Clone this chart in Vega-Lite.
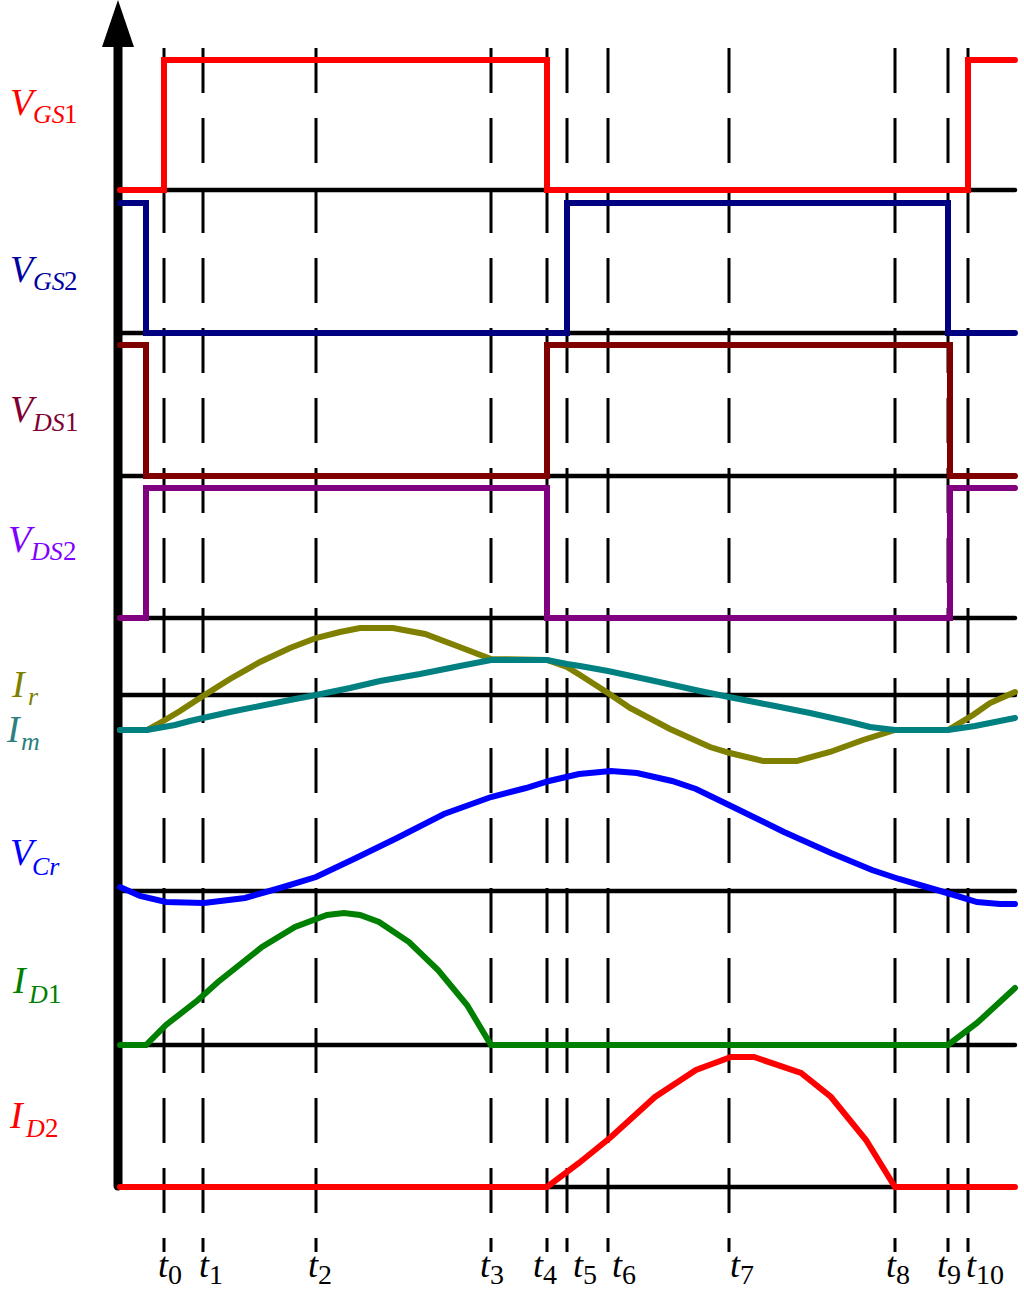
{
  "$schema": "https://vega.github.io/schema/vega-lite/v6.json",
  "width": 1024,
  "height": 1295,
  "autosize": {"type": "none"},
  "padding": 0,
  "background": "white",
  "config": {"view": {"stroke": null}},
  "datasets": {
    "base": [
      {"lvl": 190, "x0": 118, "x1": 1015},
      {"lvl": 333, "x0": 118, "x1": 1015},
      {"lvl": 476, "x0": 118, "x1": 1015},
      {"lvl": 618, "x0": 118, "x1": 1015},
      {"lvl": 695, "x0": 118, "x1": 1015},
      {"lvl": 891, "x0": 118, "x1": 1015},
      {"lvl": 1045, "x0": 118, "x1": 1015},
      {"lvl": 1187, "x0": 118, "x1": 1015}
    ],
    "times": [
      {"k": "0", "t": 164, "lx": 158},
      {"k": "1", "t": 203, "lx": 199},
      {"k": "2", "t": 316, "lx": 308},
      {"k": "3", "t": 491, "lx": 480},
      {"k": "4", "t": 547, "lx": 533},
      {"k": "5", "t": 567, "lx": 573},
      {"k": "6", "t": 608, "lx": 612},
      {"k": "7", "t": 729, "lx": 730},
      {"k": "8", "t": 895, "lx": 886},
      {"k": "9", "t": 948, "lx": 937},
      {"k": "10", "t": 968, "lx": 966}
    ],
    "axisline": [{"x": 118, "y0": 45, "y1": 1186, "tip": 23.5}],
    "sig": [
      {"s": "s1", "i": 0, "t": 120, "v": 190}, {"s": "s1", "i": 1, "t": 164, "v": 190}, {"s": "s1", "i": 2, "t": 164, "v": 60}, {"s": "s1", "i": 3, "t": 547, "v": 60}, {"s": "s1", "i": 4, "t": 547, "v": 190}, {"s": "s1", "i": 5, "t": 968, "v": 190}, {"s": "s1", "i": 6, "t": 968, "v": 60}, {"s": "s1", "i": 7, "t": 1015, "v": 60},
      {"s": "s2", "i": 0, "t": 120, "v": 203}, {"s": "s2", "i": 1, "t": 146, "v": 203}, {"s": "s2", "i": 2, "t": 146, "v": 333}, {"s": "s2", "i": 3, "t": 567, "v": 333}, {"s": "s2", "i": 4, "t": 567, "v": 203}, {"s": "s2", "i": 5, "t": 948, "v": 203}, {"s": "s2", "i": 6, "t": 948, "v": 333}, {"s": "s2", "i": 7, "t": 1015, "v": 333},
      {"s": "s3", "i": 0, "t": 120, "v": 345}, {"s": "s3", "i": 1, "t": 146, "v": 345}, {"s": "s3", "i": 2, "t": 146, "v": 476}, {"s": "s3", "i": 3, "t": 547, "v": 476}, {"s": "s3", "i": 4, "t": 547, "v": 345}, {"s": "s3", "i": 5, "t": 950, "v": 345}, {"s": "s3", "i": 6, "t": 950, "v": 476}, {"s": "s3", "i": 7, "t": 1015, "v": 476},
      {"s": "s4", "i": 0, "t": 120, "v": 618}, {"s": "s4", "i": 1, "t": 146, "v": 618}, {"s": "s4", "i": 2, "t": 146, "v": 488}, {"s": "s4", "i": 3, "t": 547, "v": 488}, {"s": "s4", "i": 4, "t": 547, "v": 618}, {"s": "s4", "i": 5, "t": 950, "v": 618}, {"s": "s4", "i": 6, "t": 950, "v": 488}, {"s": "s4", "i": 7, "t": 1015, "v": 488},
      {"s": "s5", "i": 0, "t": 120, "v": 730}, {"s": "s5", "i": 1, "t": 147, "v": 730}, {"s": "s5", "i": 2, "t": 165, "v": 720}, {"s": "s5", "i": 3, "t": 180, "v": 711}, {"s": "s5", "i": 4, "t": 203, "v": 696}, {"s": "s5", "i": 5, "t": 230, "v": 679}, {"s": "s5", "i": 6, "t": 260, "v": 662}, {"s": "s5", "i": 7, "t": 290, "v": 648}, {"s": "s5", "i": 8, "t": 316, "v": 638}, {"s": "s5", "i": 9, "t": 340, "v": 632}, {"s": "s5", "i": 10, "t": 360, "v": 628}, {"s": "s5", "i": 11, "t": 393, "v": 628}, {"s": "s5", "i": 12, "t": 425, "v": 634}, {"s": "s5", "i": 13, "t": 457, "v": 646}, {"s": "s5", "i": 14, "t": 491, "v": 659}, {"s": "s5", "i": 15, "t": 547, "v": 660}, {"s": "s5", "i": 16, "t": 567, "v": 667}, {"s": "s5", "i": 17, "t": 580, "v": 675}, {"s": "s5", "i": 18, "t": 608, "v": 693}, {"s": "s5", "i": 19, "t": 630, "v": 708}, {"s": "s5", "i": 20, "t": 670, "v": 729}, {"s": "s5", "i": 21, "t": 710, "v": 747}, {"s": "s5", "i": 22, "t": 730, "v": 753}, {"s": "s5", "i": 23, "t": 763, "v": 761}, {"s": "s5", "i": 24, "t": 797, "v": 761}, {"s": "s5", "i": 25, "t": 830, "v": 752}, {"s": "s5", "i": 26, "t": 863, "v": 740}, {"s": "s5", "i": 27, "t": 895, "v": 730}, {"s": "s5", "i": 28, "t": 948, "v": 730}, {"s": "s5", "i": 29, "t": 973, "v": 715}, {"s": "s5", "i": 30, "t": 990, "v": 703}, {"s": "s5", "i": 31, "t": 1015, "v": 692},
      {"s": "s6", "i": 0, "t": 120, "v": 730}, {"s": "s6", "i": 1, "t": 147, "v": 730}, {"s": "s6", "i": 2, "t": 175, "v": 725}, {"s": "s6", "i": 3, "t": 190, "v": 721}, {"s": "s6", "i": 4, "t": 203, "v": 718}, {"s": "s6", "i": 5, "t": 230, "v": 712}, {"s": "s6", "i": 6, "t": 260, "v": 706}, {"s": "s6", "i": 7, "t": 290, "v": 700}, {"s": "s6", "i": 8, "t": 316, "v": 695}, {"s": "s6", "i": 9, "t": 350, "v": 688}, {"s": "s6", "i": 10, "t": 380, "v": 681}, {"s": "s6", "i": 11, "t": 420, "v": 674}, {"s": "s6", "i": 12, "t": 460, "v": 666}, {"s": "s6", "i": 13, "t": 491, "v": 660}, {"s": "s6", "i": 14, "t": 547, "v": 660}, {"s": "s6", "i": 15, "t": 567, "v": 664}, {"s": "s6", "i": 16, "t": 580, "v": 666}, {"s": "s6", "i": 17, "t": 608, "v": 671}, {"s": "s6", "i": 18, "t": 650, "v": 680}, {"s": "s6", "i": 19, "t": 700, "v": 691}, {"s": "s6", "i": 20, "t": 729, "v": 697}, {"s": "s6", "i": 21, "t": 770, "v": 705}, {"s": "s6", "i": 22, "t": 810, "v": 713}, {"s": "s6", "i": 23, "t": 850, "v": 722}, {"s": "s6", "i": 24, "t": 870, "v": 727}, {"s": "s6", "i": 25, "t": 895, "v": 730}, {"s": "s6", "i": 26, "t": 948, "v": 730}, {"s": "s6", "i": 27, "t": 975, "v": 726}, {"s": "s6", "i": 28, "t": 1015, "v": 718},
      {"s": "s7", "i": 0, "t": 120, "v": 887}, {"s": "s7", "i": 1, "t": 140, "v": 896}, {"s": "s7", "i": 2, "t": 166, "v": 902}, {"s": "s7", "i": 3, "t": 204, "v": 903}, {"s": "s7", "i": 4, "t": 245, "v": 898}, {"s": "s7", "i": 5, "t": 280, "v": 888}, {"s": "s7", "i": 6, "t": 316, "v": 877}, {"s": "s7", "i": 7, "t": 356, "v": 858}, {"s": "s7", "i": 8, "t": 397, "v": 838}, {"s": "s7", "i": 9, "t": 444, "v": 814}, {"s": "s7", "i": 10, "t": 491, "v": 797}, {"s": "s7", "i": 11, "t": 526, "v": 788}, {"s": "s7", "i": 12, "t": 549, "v": 781}, {"s": "s7", "i": 13, "t": 579, "v": 774}, {"s": "s7", "i": 14, "t": 611, "v": 771}, {"s": "s7", "i": 15, "t": 637, "v": 773}, {"s": "s7", "i": 16, "t": 672, "v": 781}, {"s": "s7", "i": 17, "t": 696, "v": 789}, {"s": "s7", "i": 18, "t": 731, "v": 806}, {"s": "s7", "i": 19, "t": 784, "v": 832}, {"s": "s7", "i": 20, "t": 831, "v": 853}, {"s": "s7", "i": 21, "t": 872, "v": 870}, {"s": "s7", "i": 22, "t": 899, "v": 879}, {"s": "s7", "i": 23, "t": 930, "v": 888}, {"s": "s7", "i": 24, "t": 954, "v": 895}, {"s": "s7", "i": 25, "t": 977, "v": 902}, {"s": "s7", "i": 26, "t": 1000, "v": 904}, {"s": "s7", "i": 27, "t": 1015, "v": 904},
      {"s": "s8", "i": 0, "t": 120, "v": 1045}, {"s": "s8", "i": 1, "t": 146, "v": 1045}, {"s": "s8", "i": 2, "t": 166, "v": 1025}, {"s": "s8", "i": 3, "t": 198, "v": 1000}, {"s": "s8", "i": 4, "t": 218, "v": 982}, {"s": "s8", "i": 5, "t": 262, "v": 947}, {"s": "s8", "i": 6, "t": 295, "v": 927}, {"s": "s8", "i": 7, "t": 327, "v": 915}, {"s": "s8", "i": 8, "t": 344, "v": 913}, {"s": "s8", "i": 9, "t": 360, "v": 915}, {"s": "s8", "i": 10, "t": 379, "v": 922}, {"s": "s8", "i": 11, "t": 409, "v": 942}, {"s": "s8", "i": 12, "t": 438, "v": 970}, {"s": "s8", "i": 13, "t": 467, "v": 1005}, {"s": "s8", "i": 14, "t": 491, "v": 1045}, {"s": "s8", "i": 15, "t": 948, "v": 1045}, {"s": "s8", "i": 16, "t": 977, "v": 1023}, {"s": "s8", "i": 17, "t": 1015, "v": 988},
      {"s": "s9", "i": 0, "t": 120, "v": 1187}, {"s": "s9", "i": 1, "t": 547, "v": 1187}, {"s": "s9", "i": 2, "t": 579, "v": 1163}, {"s": "s9", "i": 3, "t": 611, "v": 1137}, {"s": "s9", "i": 4, "t": 655, "v": 1097}, {"s": "s9", "i": 5, "t": 696, "v": 1070}, {"s": "s9", "i": 6, "t": 731, "v": 1057}, {"s": "s9", "i": 7, "t": 754, "v": 1057}, {"s": "s9", "i": 8, "t": 801, "v": 1073}, {"s": "s9", "i": 9, "t": 831, "v": 1097}, {"s": "s9", "i": 10, "t": 866, "v": 1140}, {"s": "s9", "i": 11, "t": 895, "v": 1187}, {"s": "s9", "i": 12, "t": 1015, "v": 1187}
    ],
    "labels": [
      {"s": "s1", "kind": "main", "txt": "V", "x": 10, "y": 115},
      {"s": "s1", "kind": "sub", "txt": "GS", "x": 33, "y": 123},
      {"s": "s1", "kind": "dig", "txt": "1", "x": 64, "y": 123},
      {"s": "s2", "kind": "main", "txt": "V", "x": 10, "y": 282},
      {"s": "s2", "kind": "sub", "txt": "GS", "x": 33, "y": 290},
      {"s": "s2", "kind": "dig", "txt": "2", "x": 64, "y": 290},
      {"s": "s3", "kind": "main", "txt": "V", "x": 10, "y": 422},
      {"s": "s3", "kind": "sub", "txt": "DS", "x": 33, "y": 431},
      {"s": "s3", "kind": "dig", "txt": "1", "x": 65, "y": 431},
      {"s": "s4", "kind": "main", "txt": "V", "x": 8, "y": 552},
      {"s": "s4", "kind": "sub", "txt": "DS", "x": 31, "y": 560},
      {"s": "s4", "kind": "dig", "txt": "2", "x": 63, "y": 560},
      {"s": "s5", "kind": "main", "txt": "I", "x": 12, "y": 697},
      {"s": "s5", "kind": "sub", "txt": "r", "x": 28, "y": 705},
      {"s": "s6", "kind": "main", "txt": "I", "x": 7, "y": 742},
      {"s": "s6", "kind": "sub", "txt": "m", "x": 21, "y": 750},
      {"s": "s7", "kind": "main", "txt": "V", "x": 10, "y": 865},
      {"s": "s7", "kind": "sub", "txt": "Cr", "x": 32, "y": 875},
      {"s": "s8", "kind": "main", "txt": "I", "x": 13, "y": 993},
      {"s": "s8", "kind": "sub", "txt": "D", "x": 29, "y": 1003},
      {"s": "s8", "kind": "dig", "txt": "1", "x": 48, "y": 1003},
      {"s": "s9", "kind": "main", "txt": "I", "x": 10, "y": 1128},
      {"s": "s9", "kind": "sub", "txt": "D", "x": 26, "y": 1137},
      {"s": "s9", "kind": "dig", "txt": "2", "x": 45, "y": 1137}
    ]
  },
  "layer": [
    {
      "data": {"name": "base"},
      "mark": {"type": "rule", "color": "black", "strokeWidth": 4.5, "strokeCap": "round"},
      "encoding": {
        "x": {"field": "x0", "type": "quantitative", "scale": {"domain": [0, 1024], "nice": false, "zero": false}, "axis": null},
        "x2": {"field": "x1"},
        "y": {"field": "lvl", "type": "quantitative", "scale": {"domain": [0, 1295], "nice": false, "zero": false, "reverse": true}, "axis": null}
      }
    },
    {
      "data": {"name": "times"},
      "mark": {"type": "rule", "color": "black", "strokeWidth": 3, "strokeDash": [45, 25]},
      "encoding": {
        "x": {"field": "t", "type": "quantitative"},
        "y": {"datum": 48, "type": "quantitative"},
        "y2": {"datum": 1252}
      }
    },
    {
      "data": {"name": "axisline"},
      "mark": {"type": "rule", "color": "black", "strokeWidth": 9, "strokeCap": "round"},
      "encoding": {
        "x": {"field": "x", "type": "quantitative"},
        "y": {"field": "y0", "type": "quantitative"},
        "y2": {"field": "y1"}
      }
    },
    {
      "data": {"name": "axisline"},
      "mark": {"type": "point", "shape": "M0,-1L0.68,1L-0.68,1Z", "filled": true, "color": "black", "opacity": 1, "size": 2209, "strokeWidth": 0},
      "encoding": {
        "x": {"field": "x", "type": "quantitative"},
        "y": {"field": "tip", "type": "quantitative"}
      }
    },
    {
      "data": {"name": "sig"},
      "mark": {"type": "line", "strokeWidth": 6, "strokeCap": "round", "strokeJoin": "miter"},
      "encoding": {
        "x": {"field": "t", "type": "quantitative"},
        "y": {"field": "v", "type": "quantitative"},
        "order": {"field": "i", "type": "quantitative"},
        "color": {"field": "s", "type": "nominal", "legend": null,
          "scale": {"domain": ["s1", "s2", "s3", "s4", "s5", "s6", "s7", "s8", "s9"],
                    "range": ["#FF0000", "#000080", "#800000", "#800080", "#808000", "#008080", "#0000FF", "#008000", "#FF0000"]}}
      }
    },
    {
      "data": {"name": "labels"},
      "transform": [{"filter": "datum.kind === 'main'"}],
      "mark": {"type": "text", "align": "left", "baseline": "alphabetic", "font": "Liberation Serif", "fontStyle": "italic", "fontSize": 38},
      "encoding": {
        "x": {"field": "x", "type": "quantitative"},
        "y": {"field": "y", "type": "quantitative"},
        "text": {"field": "txt"},
        "color": {"field": "s", "type": "nominal", "legend": null,
          "scale": {"domain": ["s1", "s2", "s3", "s4", "s5", "s6", "s7", "s8", "s9"],
                    "range": ["#FF0000", "#0000A0", "#800033", "#8000FF", "#808000", "#2E8080", "#0000FF", "#008000", "#FF0000"]}}
      }
    },
    {
      "data": {"name": "labels"},
      "transform": [{"filter": "datum.kind === 'sub'"}],
      "mark": {"type": "text", "align": "left", "baseline": "alphabetic", "font": "Liberation Serif", "fontStyle": "italic", "fontSize": 26},
      "encoding": {
        "x": {"field": "x", "type": "quantitative"},
        "y": {"field": "y", "type": "quantitative"},
        "text": {"field": "txt"},
        "color": {"field": "s", "type": "nominal", "legend": null,
          "scale": {"domain": ["s1", "s2", "s3", "s4", "s5", "s6", "s7", "s8", "s9"],
                    "range": ["#FF0000", "#0000A0", "#800033", "#8000FF", "#808000", "#2E8080", "#0000FF", "#008000", "#FF0000"]}}
      }
    },
    {
      "data": {"name": "labels"},
      "transform": [{"filter": "datum.kind === 'dig'"}],
      "mark": {"type": "text", "align": "left", "baseline": "alphabetic", "font": "Liberation Serif", "fontSize": 27},
      "encoding": {
        "x": {"field": "x", "type": "quantitative"},
        "y": {"field": "y", "type": "quantitative"},
        "text": {"field": "txt"},
        "color": {"field": "s", "type": "nominal", "legend": null,
          "scale": {"domain": ["s1", "s2", "s3", "s4", "s5", "s6", "s7", "s8", "s9"],
                    "range": ["#FF0000", "#0000A0", "#800033", "#8000FF", "#808000", "#2E8080", "#0000FF", "#008000", "#FF0000"]}}
      }
    },
    {
      "data": {"name": "times"},
      "mark": {"type": "text", "align": "left", "baseline": "alphabetic", "font": "Liberation Serif", "fontStyle": "italic", "fontSize": 36, "color": "black"},
      "encoding": {
        "x": {"field": "lx", "type": "quantitative"},
        "y": {"datum": 1277, "type": "quantitative"},
        "text": {"value": "t"}
      }
    },
    {
      "data": {"name": "times"},
      "mark": {"type": "text", "align": "left", "baseline": "alphabetic", "font": "Liberation Serif", "fontSize": 28, "color": "black", "dx": 10},
      "encoding": {
        "x": {"field": "lx", "type": "quantitative"},
        "y": {"datum": 1284, "type": "quantitative"},
        "text": {"field": "k"}
      }
    }
  ],
  "resolve": {"scale": {"color": "independent"}}
}
